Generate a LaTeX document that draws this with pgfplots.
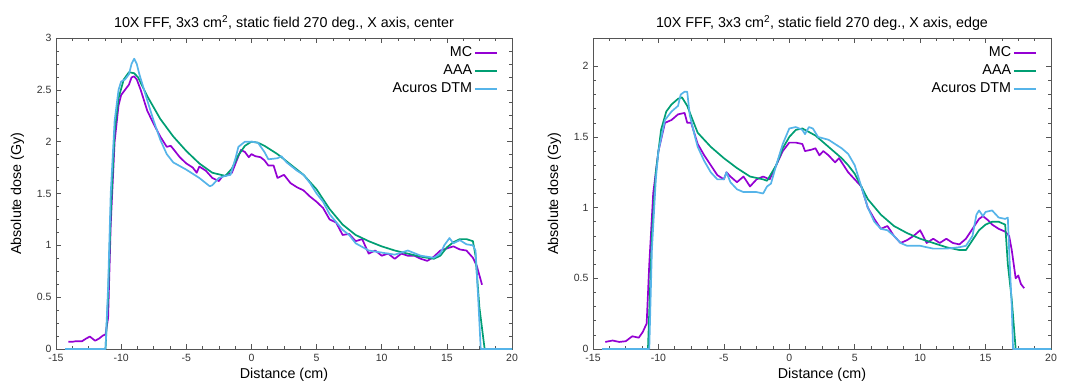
\documentclass[border=0pt]{standalone}
\usepackage{pgfplots}
\pgfplotsset{compat=1.18}
\usepackage{fontspec}
\setmainfont{Liberation Sans}
\definecolor{mcc}{HTML}{9400D3}
\definecolor{aaac}{HTML}{009E73}
\definecolor{acc}{HTML}{56B4E9}
\definecolor{framec}{HTML}{555555}
\pgfplotsset{
  gp/.style={
    scale only axis, width=456pt, height=311pt,
    xmin=-15, xmax=20, ymin=0,
    xtick={-15,-10,...,20},
    minor x tick num=3,
    axis line style={framec, line width=0.9pt},
    tick style={framec, line width=0.6pt},
    major tick length=5pt, minor tick length=3pt,
    tick align=inside,
    ticklabel style={font=\fontsize{10.5}{12}\selectfont, text=black!80},
    xticklabel style={yshift=-2pt},
    yticklabel style={xshift=-1pt},
    /pgf/number format/assume math mode=true,
    xlabel={Distance (cm)}, ylabel={Absolute dose (Gy)},
    label style={font=\fontsize{14.3}{16}\selectfont},
    xlabel style={yshift=1pt},
    ylabel style={yshift=6pt},
    title style={font=\fontsize{14.3}{17}\selectfont, yshift=-2pt},
    legend style={draw=none, fill=none, at={(rel axis cs:1,1)}, anchor=north east,
      xshift=-11pt, yshift=-4pt, font=\fontsize{14.3}{17}\selectfont,
      legend cell align=right, row sep=0.5pt,
      nodes={text height=10.5pt, text depth=3pt, inner sep=2pt}},
    legend plot pos=right,
    legend image code/.code={\draw[#1] (0pt,0pt) -- (22pt,0pt);},
    every axis plot/.append style={line width=1.7pt, line join=round},
  }
}
\begin{document}
\begin{tikzpicture}
\useasboundingbox (0pt,0pt) rectangle (1071pt,383pt);
\begin{axis}[gp, at={(56pt,34pt)}, anchor=south west,
  ymax=3, ytick={0,0.5,...,3}, minor y tick num=3,
  yticklabels={0,0.5,1,1.5,2,2.5,3},
  title={10X FFF, 3x3 cm\textsuperscript{2}, static field 270 deg., X axis, center}]
\addplot[mcc] coordinates {
(-14.05,0.07) (-13.7,0.07) (-13.5,0.075) (-13,0.075) (-12.7,0.1) (-12.4,0.12) (-12,0.08) (-11.7,0.1) (-11.4,0.13) (-11.2,0.14)
(-11.0,0.3) (-10.8,1.2) (-10.5,2.0) (-10.2,2.35) (-10,2.45) (-9.7,2.5) (-9.4,2.55) (-9.2,2.62) (-9,2.63) (-8.8,2.6)
(-8.5,2.5) (-8,2.3) (-7.5,2.17) (-7,2.05) (-6.5,1.95) (-6.2,1.96) (-6,1.93) (-5.5,1.85) (-5,1.79) (-4.5,1.75) (-4.2,1.7)
(-4,1.76) (-3.5,1.72) (-3,1.65) (-2.5,1.62) (-2.2,1.67) (-2,1.67) (-1.5,1.7) (-1,1.86) (-0.8,1.92) (-0.5,1.9)
(-0.2,1.85) (0,1.88) (0.3,1.86) (0.7,1.85) (1,1.82) (1.3,1.77) (1.7,1.77) (2,1.65) (2.5,1.68) (3,1.6) (3.5,1.56)
(4,1.53) (4.5,1.47) (5,1.42) (5.5,1.36) (6,1.25) (6.5,1.22) (7,1.1) (7.5,1.11) (8,1.04) (8.5,1.06) (9,0.92)
(9.5,0.95) (10,0.9) (10.5,0.92) (11,0.87) (11.5,0.92) (12,0.9) (12.5,0.9) (13,0.87) (13.5,0.85) (14,0.89)
(14.5,0.95) (15,0.97) (15.5,0.99) (16,0.96) (16.5,0.95) (17,0.88) (17.3,0.8) (17.7,0.62)
};
\addplot[aaac] coordinates {
(-14.3,0) (-11.2,0) (-11.0,0.5) (-10.8,1.3) (-10.5,2.1) (-10.2,2.42) (-9.8,2.6) (-9.4,2.67) (-9,2.66) (-8.7,2.62)
(-8,2.44) (-7,2.22) (-6,2.05) (-5,1.91) (-4,1.79) (-3,1.7) (-2,1.67) (-1.5,1.74) (-1,1.87) (-0.5,1.96) (0,2.0)
(0.5,1.99) (1,1.96) (2,1.88) (3,1.78) (4,1.68) (5,1.54) (6,1.35) (7,1.2) (8,1.1) (9,1.04) (10,0.99) (11,0.95)
(12,0.92) (13,0.89) (14,0.87) (14.5,0.9) (15,0.98) (15.5,1.03) (16,1.06) (16.5,1.06) (17,1.04) (17.2,0.9)
(17.5,0.4) (17.9,0) (20,0)
};
\addplot[acc] coordinates {
(-14.3,0) (-11.2,0) (-11,0.6) (-10.8,1.5) (-10.5,2.2) (-10.2,2.5) (-10,2.58) (-9.7,2.6) (-9.4,2.65) (-9.2,2.75)
(-9.0,2.8) (-8.8,2.75) (-8.6,2.65) (-8,2.4) (-7.5,2.2) (-7,2.02) (-6.5,1.88) (-6,1.8) (-5,1.73) (-4,1.65)
(-3.5,1.6) (-3.2,1.57) (-3,1.58) (-2.5,1.65) (-2,1.67) (-1.6,1.68) (-1.2,1.85) (-1,1.95) (-0.5,2.0) (0,2.0)
(0.5,1.99) (1,1.9) (1.3,1.83) (2,1.84) (2.3,1.86) (2.7,1.8) (3.5,1.72) (4,1.68) (4.5,1.6) (5,1.5) (5.5,1.42)
(6,1.3) (7,1.15) (7.5,1.1) (8,1.02) (9,0.95) (10,0.93) (11,0.91) (12,0.95) (13,0.9) (14,0.88) (14.5,0.92)
(14.8,1.0) (15.2,1.07) (15.5,1.02) (16,1.05) (16.5,1.01) (17,1.0) (17.2,0.95) (17.4,0.5) (17.6,0) (20,0)
};
\legend{MC,AAA,Acuros DTM}
\end{axis}
\begin{axis}[gp, at={(593pt,34pt)}, anchor=south west, width=458pt,
  ymax=2.2, ytick={0,0.5,...,2}, minor y tick num=4,
  yticklabels={0,0.5,1,1.5,2},
  title={10X FFF, 3x3 cm\textsuperscript{2}, static field 270 deg., X axis, edge}]
\addplot[mcc] coordinates {
(-14.06,0.05) (-13.5,0.06) (-13,0.05) (-12.5,0.055) (-12,0.09) (-11.5,0.08) (-11.2,0.12) (-10.9,0.18)
(-10.7,0.6) (-10.4,1.1) (-10,1.4) (-9.5,1.6) (-9,1.62) (-8.5,1.66) (-8,1.67) (-7.8,1.6) (-7.5,1.6) (-7,1.45)
(-6.5,1.37) (-6,1.3) (-5.5,1.23) (-5,1.2) (-4.8,1.25) (-4.5,1.22) (-4,1.18) (-3.5,1.22) (-3,1.15) (-2.5,1.2)
(-2,1.22) (-1.5,1.2) (-1,1.3) (-0.5,1.4) (0,1.46) (0.5,1.46) (1,1.45) (1.2,1.4) (1.7,1.41) (2,1.42) (2.3,1.37)
(2.6,1.4) (3,1.37) (3.5,1.32) (3.8,1.35) (4.5,1.25) (5,1.2) (5.5,1.15) (6,1.0) (6.5,0.92) (7,0.85) (7.5,0.87)
(8,0.8) (8.5,0.75) (9,0.77) (9.5,0.8) (10,0.84) (10.5,0.75) (11,0.78) (11.5,0.75) (12,0.78) (12.5,0.75)
(13,0.74) (13.5,0.78) (14,0.85) (14.5,0.92) (14.8,0.94) (15.2,0.91) (15.5,0.88) (16,0.85) (16.5,0.83)
(16.8,0.8) (17.0,0.7) (17.3,0.5) (17.5,0.52) (17.7,0.46) (17.95,0.43)
};
\addplot[aaac] coordinates {
(-14.3,0) (-10.8,0) (-10.5,0.8) (-10.2,1.25) (-9.8,1.55) (-9.4,1.68) (-9,1.73) (-8.5,1.77) (-8.2,1.78)
(-7.8,1.72) (-7.3,1.6) (-7,1.53) (-6,1.43) (-5,1.35) (-4,1.28) (-3,1.22) (-2,1.2) (-1.7,1.19) (-1,1.3)
(-0.5,1.42) (0,1.5) (0.5,1.55) (1,1.56) (2,1.51) (3,1.43) (4,1.35) (4.5,1.3) (5,1.24) (6,1.06) (7,0.95)
(8,0.87) (9,0.82) (10,0.78) (11,0.75) (12,0.72) (13,0.7) (13.5,0.7) (14,0.77) (14.5,0.84) (15,0.88)
(15.5,0.9) (16,0.9) (16.5,0.88) (16.7,0.6) (17,0.35) (17.3,0) (20,0)
};
\addplot[acc] coordinates {
(-14.3,0) (-10.7,0) (-10.5,0.7) (-10.2,1.2) (-10,1.4) (-9.5,1.62) (-9,1.68) (-8.5,1.72) (-8.3,1.8) (-8,1.82)
(-7.8,1.82) (-7.6,1.65) (-7.2,1.5) (-7,1.43) (-6.5,1.33) (-6,1.25) (-5.5,1.2) (-5,1.2) (-4.8,1.25) (-4.5,1.18)
(-4,1.13) (-3.5,1.11) (-3,1.11) (-2.5,1.11) (-2,1.1) (-1.7,1.15) (-1.4,1.17) (-1,1.3) (-0.5,1.45) (0,1.56)
(0.5,1.57) (1,1.55) (1.2,1.52) (1.5,1.57) (1.8,1.56) (2.2,1.5) (3,1.48) (4,1.42) (4.5,1.38) (5,1.3) (5.5,1.15)
(6,1.0) (6.5,0.9) (7,0.85) (7.5,0.84) (8,0.8) (8.5,0.75) (9,0.73) (10,0.73) (11,0.71) (12,0.71) (13,0.72)
(13.5,0.73) (14,0.8) (14.3,0.95) (14.5,0.98) (14.8,0.94) (15,0.97) (15.5,0.98) (16,0.93) (16.5,0.92)
(16.7,0.93) (16.8,0.7) (17,0.3) (17.1,0) (20,0)
};
\legend{MC,AAA,Acuros DTM}
\end{axis}
\end{tikzpicture}
\end{document}
